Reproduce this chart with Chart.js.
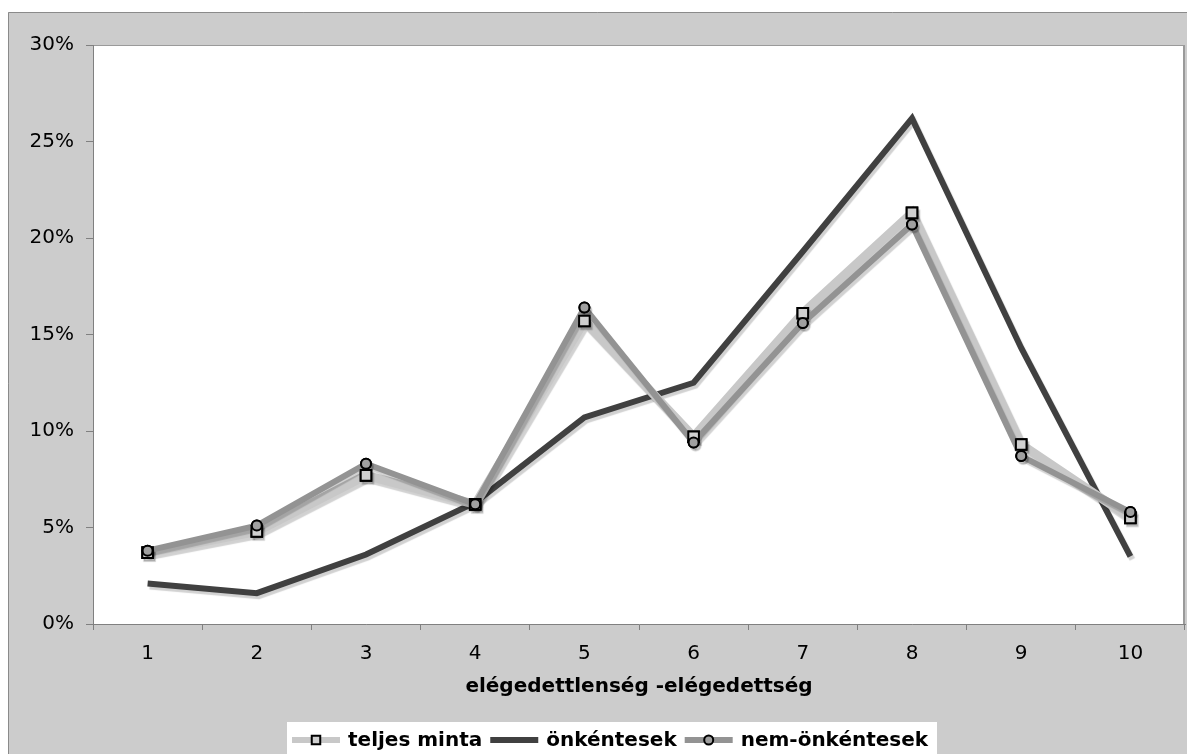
<!DOCTYPE html>
<html>
<head>
<meta charset="utf-8">
<script src="https://cdn.jsdelivr.net/npm/chart.js@4"></script>
<style>
  html, body { margin: 0; padding: 0; background: #fff; }
</style>
</head>
<body>
<canvas id="chart" width="1187" height="754"></canvas>
<script>
// --- Data ---
const categories = ["1", "2", "3", "4", "5", "6", "7", "8", "9", "10"];
const teljesMinta = [3.7, 4.8, 7.7, 6.2, 15.7, 9.7, 16.1, 21.3, 9.3, 5.5];
const onkentesek = [2.1, 1.6, 3.6, 6.3, 10.7, 12.5, 19.3, 26.2, 14.3, 3.5];
const nemOnkentesek = [3.8, 5.1, 8.3, 6.2, 16.4, 9.4, 15.6, 20.7, 8.7, 5.8];
const yTicks = [0, 5, 10, 15, 20, 25, 30];

const FONT = '"DejaVu Sans", Verdana, sans-serif';

// --- Background: grey panel + white plot area ---
const panel = {
  id: "panel",
  beforeDraw(chart) {
    const { ctx, chartArea: a } = chart;
    ctx.save();
    ctx.fillStyle = "#fff";
    ctx.fillRect(0, 0, chart.width, chart.height);
    ctx.fillStyle = "#cccccc";
    ctx.fillRect(8, 12, chart.width - 8, chart.height - 12);
    ctx.strokeStyle = "#8a8a8a";
    ctx.lineWidth = 1;
    ctx.beginPath();
    ctx.moveTo(8.5, chart.height);
    ctx.lineTo(8.5, 12.5);
    ctx.lineTo(chart.width, 12.5);
    ctx.stroke();
    ctx.fillStyle = "#fff";
    ctx.fillRect(a.left, a.top, a.right - a.left, a.bottom - a.top);
    ctx.strokeStyle = "#9a9a9a";
    ctx.lineWidth = 1;
    ctx.beginPath();
    ctx.moveTo(a.left, a.top + 0.5);
    ctx.lineTo(a.right, a.top + 0.5);
    ctx.stroke();
    ctx.lineWidth = 2;
    ctx.beginPath();
    ctx.moveTo(a.right - 1, a.top);
    ctx.lineTo(a.right - 1, a.bottom);
    ctx.stroke();
    ctx.restore();
  }
};

// --- soft drop shadow under the lines (Excel look) ---
const shadow = {
  id: "shadow",
  beforeDatasetDraw(chart) {
    const ctx = chart.ctx;
    ctx.save();
    ctx.shadowColor = "rgba(0,0,0,0.18)";
    ctx.shadowOffsetX = 2;
    ctx.shadowOffsetY = 3;
    ctx.shadowBlur = 1;
  },
  afterDatasetDraw(chart) {
    chart.ctx.restore();
  }
};

// --- markers on top of every line ---
const markersOnTop = {
  id: "markersOnTop",
  afterDatasetsDraw(chart) {
    const ctx = chart.ctx;
    [0, 2].forEach(i => {
      chart.getDatasetMeta(i).data.forEach(pt => pt.draw(ctx, chart.chartArea));
    });
  }
};

// --- Legend in a white box at the bottom ---
const legendBox = {
  id: "legendBox",
  afterDraw(chart) {
    const ctx = chart.ctx;
    const y = 740;
    let x = 292;
    ctx.save();
    ctx.fillStyle = "#fff";
    ctx.fillRect(287, 722, 650, 40);
    ctx.font = "bold 20px " + FONT;
    ctx.textBaseline = "middle";
    chart.data.datasets.forEach(d => {
      ctx.strokeStyle = d.borderColor;
      ctx.lineWidth = 6;
      ctx.beginPath();
      ctx.moveTo(x, y);
      ctx.lineTo(x + 48, y);
      ctx.stroke();
      if (d.pointRadius > 0) {
        ctx.fillStyle = d.pointBackgroundColor;
        ctx.strokeStyle = d.pointBorderColor;
        ctx.lineWidth = 2;
        Chart.helpers.drawPoint(ctx, {
          pointStyle: d.pointStyle, radius: d.pointStyle === "rect" ? 6 : 4.5,
          borderWidth: 2, rotation: 0
        }, x + 24, y);
      }
      ctx.fillStyle = "#000";
      ctx.fillText(d.label, x + 56, y + 1);
      x += 56 + ctx.measureText(d.label).width + 8;
    });
    ctx.restore();
  }
};

new Chart(document.getElementById("chart"), {
  type: "line",
  data: {
    labels: categories,
    datasets: [
      {
        label: "teljes minta", data: teljesMinta, order: 1,
        borderColor: "#c8c8c8", borderWidth: 9,
        pointStyle: "rect", pointRadius: 7.5, pointBorderWidth: 2,
        pointBackgroundColor: "#d0d0d0", pointBorderColor: "#000"
      },
      {
        label: "önkéntesek", data: onkentesek, order: 2,
        borderColor: "#404040", borderWidth: 6,
        pointRadius: 0
      },
      {
        label: "nem-önkéntesek", data: nemOnkentesek, order: 0,
        borderColor: "#939393", borderWidth: 6,
        pointStyle: "circle", pointRadius: 5, pointBorderWidth: 2,
        pointBackgroundColor: "#a0a0a0", pointBorderColor: "#000"
      }
    ]
  },
  options: {
    responsive: false,
    animation: false,
    layout: { autoPadding: false, padding: { left: 0, top: 45, right: 2, bottom: 51 } },
    plugins: {
      legend: { display: false },
      tooltip: { enabled: false }
    },
    elements: { line: { tension: 0, borderJoinStyle: "miter" } },
    scales: {
      x: {
        offset: true,
        afterFit: s => { s.height = 79; s.paddingLeft = 0; s.paddingRight = 0; },
        grid: { offset: true, drawOnChartArea: false, tickLength: 6, color: "#808080" },
        border: { color: "#808080", width: 1 },
        ticks: { color: "#000", padding: 12, font: { family: FONT, size: 20 } },
        title: {
          display: true, text: "elégedettlenség -elégedettség", color: "#000",
          padding: { top: 4, bottom: 4 },
          font: { family: FONT, size: 20, weight: "bold" }
        }
      },
      y: {
        min: 0, max: 30,
        afterFit: s => { s.width = 93; },
        afterBuildTicks: s => { s.ticks = yTicks.map(v => ({ value: v })); },
        grid: { drawOnChartArea: false, tickLength: 7, color: "#808080" },
        border: { color: "#808080", width: 1 },
        ticks: {
          color: "#000", padding: 12, font: { family: FONT, size: 20 },
          callback: v => v + "%"
        }
      }
    }
  },
  plugins: [panel, shadow, markersOnTop, legendBox]
});
</script>
</body>
</html>
